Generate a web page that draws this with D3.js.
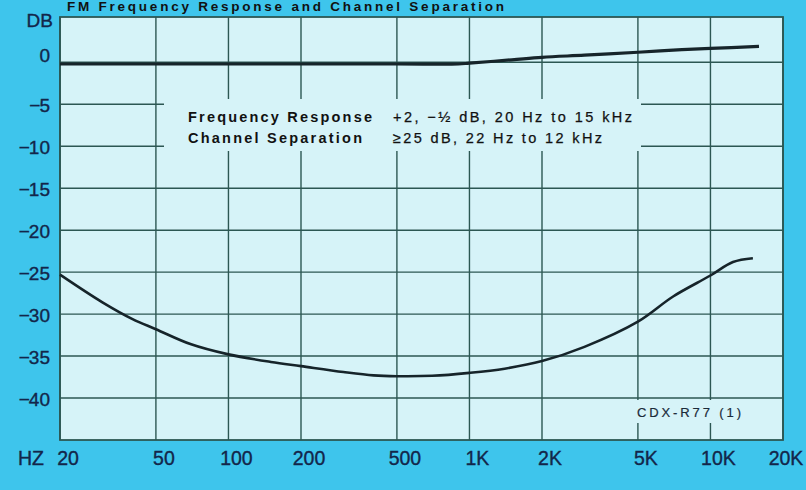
<!DOCTYPE html>
<html><head><meta charset="utf-8">
<script src="https://cdn.jsdelivr.net/npm/d3@7/dist/d3.min.js"></script>
<style>html,body{margin:0;padding:0;background:#3ec5ec;}svg{display:block;font-family:"Liberation Sans",Arial,sans-serif;}</style>
</head><body>
<svg id="c" width="806" height="490"></svg>
<script>
// ---- data ----
const xTicks = [20, 50, 100, 200, 500, 1000, 2000, 5000, 10000, 20000];
const xTickLabels = ["20", "50", "100", "200", "500", "1K", "2K", "5K", "10K", "20K"];
const yTicks = [0, -5, -10, -15, -20, -25, -30, -35, -40];
const respFreq = [20, 100, 500, 900, 1000, 1500, 2000, 3000, 5000, 7000, 10000, 15900];
const respDb   = [-0.2, -0.2, -0.2, -0.2, -0.1, 0.3, 0.6, 0.85, 1.2, 1.45, 1.65, 1.9];
const sepFreq = [20, 30, 40, 50, 70, 100, 150, 200, 300, 400, 500, 700, 1000, 1400, 2000, 3000, 5000, 7000, 10000, 12400, 15000];
const sepDb   = [-25.3, -28.6, -30.6, -31.8, -33.6, -34.8, -35.7, -36.2, -36.9, -37.3, -37.4, -37.35, -37.0, -36.5, -35.6, -33.9, -30.9, -27.9, -25.4, -23.8, -23.35];
const title = "FM Frequency Response and Channel Separation";
const specNames = ["Frequency Response", "Channel Separation"];
const specValues = ["+2, \u2212\u00bd dB, 20 Hz to 15 kHz", "\u226525 dB, 22 Hz to 12 kHz"];
const modelLabel = "CDX-R77 (1)";

// ---- layout ----
const svg = d3.select("#c");
const L = 60, R = 783, T = 17, B = 440;
const x = d3.scaleLog().domain([20, 20000]).range([L, R]);
const y = d3.scaleLinear().domain([5.4, -45]).range([T, B]);
const grid = "#2c5753", ink = "#13264a", plotBg = "#d6f3f8";

svg.append("rect").attr("width", 806).attr("height", 490).attr("fill", "#3ec5ec");
svg.append("rect").attr("x", L).attr("y", T).attr("width", R - L).attr("height", B - T).attr("fill", plotBg);

// grid
const g = svg.append("g");
g.selectAll(".vx").data(xTicks).join("line")
  .attr("x1", d => x(d)).attr("x2", d => x(d)).attr("y1", T).attr("y2", B)
  .attr("stroke", grid).attr("stroke-width", 1.4);
g.selectAll(".hy").data(yTicks).join("line")
  .attr("x1", L).attr("x2", R).attr("y1", d => y(d)).attr("y2", d => y(d))
  .attr("stroke", grid).attr("stroke-width", 1.4);

// blanked boxes for the annotations
svg.append("rect").attr("x", 164).attr("y", 99).attr("width", 477).attr("height", 52).attr("fill", plotBg);
svg.append("rect").attr("x", 630).attr("y", 400).attr("width", 118).attr("height", 23).attr("fill", plotBg);

// border
svg.append("rect").attr("x", L).attr("y", T).attr("width", R - L).attr("height", B - T)
  .attr("fill", "none").attr("stroke", grid).attr("stroke-width", 1.8);

// curves
const line = d3.line().x(d => x(d[0])).y(d => y(d[1])).curve(d3.curveCatmullRom.alpha(0.5));
svg.append("path").datum(respFreq.map((f, i) => [f, respDb[i]])).attr("d", line)
  .attr("fill", "none").attr("stroke", "#16242a").attr("stroke-width", 3.2);
svg.append("path").datum(sepFreq.map((f, i) => [f, sepDb[i]])).attr("d", line)
  .attr("fill", "none").attr("stroke", "#16242a").attr("stroke-width", 2.6);

// y labels
const yl = svg.append("g").attr("fill", ink).attr("stroke", ink).attr("stroke-width", 0.35)
  .attr("font-size", 19).attr("text-anchor", "end");
yTicks.forEach(v => {
  const t = yl.append("text").attr("x", 50).attr("y", y(v) + (v === 0 ? -7 : 1)).attr("dominant-baseline", "central");
  if (v < 0) { t.append("tspan").text("\u2212"); t.append("tspan").attr("dx", -1).text(String(-v)); }
  else t.text(String(v));
});
yl.append("text").attr("x", 53).attr("y", 27).text("DB");

// x labels
const xl = svg.append("g").attr("fill", ink).attr("stroke", ink).attr("stroke-width", 0.35)
  .attr("font-size", 19.5).attr("text-anchor", "middle");
xTicks.forEach((v, i) => {
  xl.append("text").attr("x", x(v) + (i === xTicks.length - 1 ? 3 : 8)).attr("y", 465).text(xTickLabels[i]);
});
xl.append("text").attr("x", 31).attr("y", 465).text("HZ");

// title
svg.append("text").attr("x", 67).attr("y", 11).attr("font-size", 13.5).attr("font-weight", "bold")
  .attr("fill", "#111").attr("textLength", 437).attr("lengthAdjust", "spacing").text(title);

// annotation
const specW1 = [184, 174], specW2 = [239, 209], baselines = [122, 143];
specNames.forEach((s, i) => {
  svg.append("text").attr("x", 188).attr("y", baselines[i]).attr("font-size", 14.5).attr("font-weight", "bold")
    .attr("fill", "#111").attr("textLength", specW1[i]).attr("lengthAdjust", "spacing").text(s);
  svg.append("text").attr("x", 393).attr("y", baselines[i]).attr("font-size", 14.5)
    .attr("fill", "#111").attr("stroke", "#111").attr("stroke-width", 0.25)
    .attr("textLength", specW2[i]).attr("lengthAdjust", "spacing").text(specValues[i]);
});
svg.append("text").attr("x", 637).attr("y", 417).attr("font-size", 13).attr("fill", "#1a2a3a")
  .attr("stroke", "#1a2a3a").attr("stroke-width", 0.2)
  .attr("textLength", 104).attr("lengthAdjust", "spacing").text(modelLabel);
</script>
</body></html>
